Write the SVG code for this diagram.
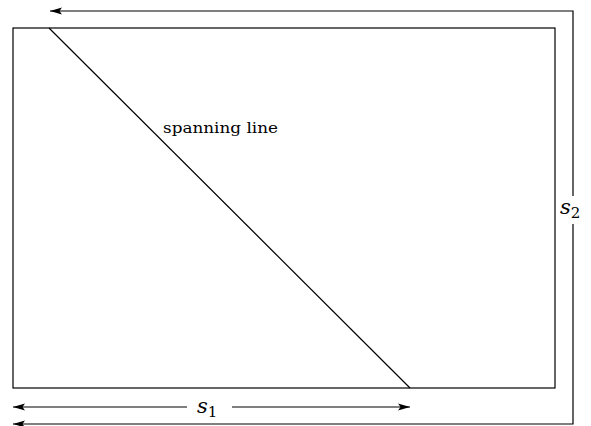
<svg xmlns="http://www.w3.org/2000/svg" width="591" height="426" viewBox="0 0 591 426">
<style>
.ln{fill:none;stroke:#000;stroke-width:1.2}
.t{font-family:"DejaVu Serif","Liberation Serif",serif;fill:#000}
.m{font-family:"DejaVu Serif","Liberation Serif",serif;font-style:italic;fill:#000}
</style>
<defs>
<marker id="ah" markerWidth="12" markerHeight="8" refX="12" refY="4" orient="auto" markerUnits="userSpaceOnUse">
<path d="M0,0.5 L12,4 L0,7.5 L2.5,4 Z" fill="#000"/>
</marker>
</defs>
<rect width="591" height="426" fill="#fff"/>
<g id="frame">
<rect x="13" y="28" width="542" height="360" class="ln"/>
</g>
<g id="spanning-line">
<line x1="49" y1="28" x2="410" y2="388" class="ln"/>
<text x="163" y="133" class="t" font-size="14" textLength="115" lengthAdjust="spacingAndGlyphs">spanning line</text>
</g>
<g id="connectors">
<path d="M573,196 V11 H50" class="ln" marker-end="url(#ah)"/>
<path d="M573,224 V424 H13" class="ln" marker-end="url(#ah)"/>
<path d="M187,407 H13" class="ln" marker-end="url(#ah)"/>
<path d="M232,407 H410" class="ln" marker-end="url(#ah)"/>
</g>
<g id="labels">
<text x="560" y="214" class="m" font-size="21">s<tspan font-style="normal" font-size="15" dy="4">2</tspan></text>
<text x="197" y="413" class="m" font-size="21">s<tspan font-style="normal" font-size="15" dy="4">1</tspan></text>
</g>
</svg>
